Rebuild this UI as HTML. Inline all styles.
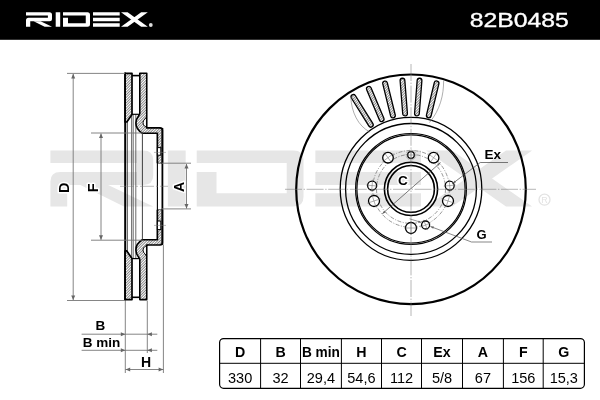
<!DOCTYPE html><html><head><meta charset="utf-8"><style>html,body{margin:0;padding:0;background:#fff;width:600px;height:400px;overflow:hidden}svg{display:block;will-change:transform}text{font-family:"Liberation Sans",sans-serif}</style></head><body>
<svg width="600" height="400" viewBox="0 0 600 400">
<defs><pattern id="hat" width="1.9" height="1.9" patternUnits="userSpaceOnUse" patternTransform="rotate(45)"><line x1="0.5" y1="0" x2="0.5" y2="1.9" stroke="#585858" stroke-width="0.7"/></pattern></defs>
<rect x="0" y="0" width="600" height="39.8" fill="#000"/>
<g fill="#fff"><path d="M26,12.25 L49.5,12.25 Q52,12.25 52,14.75 L52,18.7 Q52,21.2 49.5,21.2 L30.25,21.2 L30.25,26.75 L26,26.75 L26,20.3 Q26,17.8 28.5,17.8 L47.9,17.8 L47.9,15.5 L26,15.5 Z"/><path d="M33.6,21.2 L40.6,21.2 L52,26.75 L44.6,26.75 Z"/><path d="M55.7,12.25 L60.2,12.25 L60.2,26.75 L55.7,26.75 Z"/><path d="M63,12.25 L87.5,12.25 Q90,12.25 90,14.75 L90,24.25 Q90,26.75 87.5,26.75 L63,26.75 L63,17.8 L68,17.8 L68,23.35 L85.75,23.35 L85.75,15.5 L63,15.5 Z"/><path d="M93,12.25 H119.7 V15.5 H93 Z M93,17.8 H119.7 V21.2 H93 Z M93,23.35 H119.7 V26.75 H93 Z"/><path d="M121,12.25 L127.6,12.25 L147.8,26.75 L141.2,26.75 Z"/><path d="M141.2,12.25 L147.8,12.25 L127.6,26.75 L121,26.75 Z"/><circle cx="150.8" cy="25" r="1.9" fill="#ddd"/></g>
<text x="469.7" y="26.7" font-size="20" fill="#fff" stroke="#fff" stroke-width="0.35" textLength="99.2" lengthAdjust="spacingAndGlyphs">82B0485</text>
<g fill="#e6e6e6" transform="translate(-52.43,102.9925) scale(3.955,3.87)"><path d="M26,12.25 L49.5,12.25 Q52,12.25 52,14.75 L52,18.7 Q52,21.2 49.5,21.2 L30.25,21.2 L30.25,26.75 L26,26.75 L26,20.3 Q26,17.8 28.5,17.8 L47.9,17.8 L47.9,15.5 L26,15.5 Z"/><path d="M33.6,21.2 L40.6,21.2 L52,26.75 L44.6,26.75 Z"/><path d="M55.7,12.25 L60.2,12.25 L60.2,26.75 L55.7,26.75 Z"/><path d="M63,12.25 L87.5,12.25 Q90,12.25 90,14.75 L90,24.25 Q90,26.75 87.5,26.75 L63,26.75 L63,17.8 L68,17.8 L68,23.35 L85.75,23.35 L85.75,15.5 L63,15.5 Z"/><path d="M93,12.25 H119.7 V15.5 H93 Z M93,17.8 H119.7 V21.2 H93 Z M93,23.35 H119.7 V26.75 H93 Z"/><path d="M121,12.25 L127.6,12.25 L147.8,26.75 L141.2,26.75 Z"/><path d="M141.2,12.25 L147.8,12.25 L127.6,26.75 L121,26.75 Z"/></g>
<circle cx="544.5" cy="199.7" r="5.5" fill="none" stroke="#e3e3e3" stroke-width="1.3"/><text x="544.6" y="203.1" font-size="9" fill="#e3e3e3" text-anchor="middle">R</text>
<g fill="none" stroke="#000">
<circle cx="411" cy="189.3" r="114.8" stroke-width="2.2"/>
<ellipse cx="411" cy="188.8" rx="70.8" ry="71.5" stroke-width="1.3"/>
<circle cx="411" cy="188.9" r="65.4" stroke-width="1.3"/>
<circle cx="411" cy="188.9" r="54.1" stroke-width="1.2"/>
<circle cx="411" cy="188.9" r="55.4" stroke-width="1.2"/>
<circle cx="411" cy="188.9" r="26.6" stroke-width="1.6"/>
<circle cx="411" cy="188.9" r="23.4" stroke-width="1.6"/>
</g>
<circle cx="411" cy="188.9" r="38.4" fill="none" stroke="#555" stroke-width="0.6" stroke-dasharray="4,1.5,1,1.5"/>
<circle cx="411" cy="188.9" r="34.5" fill="none" stroke="#555" stroke-width="0.6" stroke-dasharray="4,1.5,1,1.5"/>
<circle cx="411" cy="155" r="3.3" fill="#fff" stroke="#000" stroke-width="1.3"/>
<path d="M411.00,159.80 L411.00,150.20 M406.20,155.00 L415.80,155.00" stroke="#666" stroke-width="0.5"/>
<circle cx="388" cy="157.7" r="5.3" fill="#fff" stroke="#000" stroke-width="1.3"/>
<path d="M392.03,163.17 L383.97,152.23 M382.53,161.73 L393.47,153.67" stroke="#666" stroke-width="0.5"/>
<circle cx="433.6" cy="157.7" r="5.3" fill="#fff" stroke="#000" stroke-width="1.3"/>
<path d="M429.61,163.21 L437.59,152.19 M428.09,153.71 L439.11,161.69" stroke="#666" stroke-width="0.5"/>
<circle cx="372.1" cy="185.6" r="4.5" fill="#fff" stroke="#000" stroke-width="1.3"/>
<path d="M378.08,186.11 L366.12,185.09 M371.59,191.58 L372.61,179.62" stroke="#666" stroke-width="0.5"/>
<circle cx="449.7" cy="185.6" r="4.5" fill="#fff" stroke="#000" stroke-width="1.3"/>
<path d="M443.72,186.11 L455.68,185.09 M449.19,179.62 L450.21,191.58" stroke="#666" stroke-width="0.5"/>
<circle cx="374" cy="201" r="5.5" fill="#fff" stroke="#000" stroke-width="1.3"/>
<path d="M380.65,198.82 L367.35,203.18 M376.18,207.65 L371.82,194.35" stroke="#666" stroke-width="0.5"/>
<circle cx="448" cy="201" r="5.5" fill="#fff" stroke="#000" stroke-width="1.3"/>
<path d="M441.35,198.82 L454.65,203.18 M450.18,194.35 L445.82,207.65" stroke="#666" stroke-width="0.5"/>
<circle cx="411" cy="228" r="5.5" fill="#fff" stroke="#000" stroke-width="1.3"/>
<path d="M411.00,221.00 L411.00,235.00 M418.00,228.00 L404.00,228.00" stroke="#666" stroke-width="0.5"/>
<circle cx="425.6" cy="225" r="4" fill="#fff" stroke="#000" stroke-width="1.3"/>
<path d="M423.54,219.90 L427.66,230.10 M430.70,222.94 L420.50,227.06" stroke="#666" stroke-width="0.5"/>
<circle cx="411" cy="155" r="5" fill="none" stroke="#777" stroke-width="0.5" stroke-dasharray="1.5,1"/>
<path d="M372.90,123.60 L355.36,95.53 A2.35,2.35 0 0 0 351.38,98.02 L368.92,126.09 A2.35,2.35 0 0 0 372.90,123.60 Z" fill="url(#hat)" stroke="#000" stroke-width="1.3"/>
<path d="M383.85,118.35 L371.02,87.84 A2.35,2.35 0 0 0 366.69,89.66 L379.52,120.17 A2.35,2.35 0 0 0 383.85,118.35 Z" fill="url(#hat)" stroke="#000" stroke-width="1.3"/>
<path d="M395.24,114.97 L387.34,82.83 A2.35,2.35 0 0 0 382.78,83.95 L390.67,116.09 A2.35,2.35 0 0 0 395.24,114.97 Z" fill="url(#hat)" stroke="#000" stroke-width="1.3"/>
<path d="M407.41,113.40 L404.81,80.40 A2.35,2.35 0 0 0 400.12,80.77 L402.72,113.77 A2.35,2.35 0 0 0 407.41,113.40 Z" fill="url(#hat)" stroke="#000" stroke-width="1.3"/>
<path d="M419.28,113.77 L421.88,80.77 A2.35,2.35 0 0 0 417.19,80.40 L414.59,113.40 A2.35,2.35 0 0 0 419.28,113.77 Z" fill="url(#hat)" stroke="#000" stroke-width="1.3"/>
<path d="M431.07,116.02 L438.86,83.85 A2.35,2.35 0 0 0 434.29,82.75 L426.50,114.92 A2.35,2.35 0 0 0 431.07,116.02 Z" fill="url(#hat)" stroke="#000" stroke-width="1.3"/>
<path d="M350.8,97 C351.5,112 358,126 369.9,132" fill="none" stroke="#777" stroke-width="0.6"/>
<path d="M443.6,80.6 C443.8,95 440,110 429.5,122.5" fill="none" stroke="#777" stroke-width="0.6"/>
<g stroke="#7a7a7a" stroke-width="0.55" stroke-dasharray="17,1.6,1.4,1.6">
<line x1="285" y1="189.3" x2="536" y2="189.3"/>
<line x1="411" y1="64" x2="411" y2="316"/>
</g>
<text x="403" y="185" font-size="13.6" font-weight="bold" text-anchor="middle" fill="#000" stroke="#fff" stroke-width="3" stroke-linejoin="round" paint-order="stroke">C</text>
<path d="M382.3,213.8 L440.5,162.6" stroke="#444" stroke-width="0.7"/>
<path d="M382.3,213.8 L384.14,210.59 L385.72,212.39 Z" fill="#666"/>
<path d="M440.5,162.6 L438.66,165.81 L437.08,164.01 Z" fill="#666"/>
<text x="484.4" y="158.8" font-size="13.5" font-weight="bold" fill="#000">Ex</text>
<path d="M508,162.5 H480.2 L452,184" fill="none" stroke="#444" stroke-width="0.7"/>
<path d="M452.6,183.6 L454.72,180.60 L456.05,182.35 Z" fill="#666"/>
<text x="476.5" y="238.6" font-size="13" font-weight="bold" fill="#000">G</text>
<path d="M492,242 H471.5 L430.5,226.5" fill="none" stroke="#555" stroke-width="0.7"/>
<path d="M430.3,226.4 L433.96,226.61 L433.18,228.67 Z" fill="#666"/>
<path d="M409.5,218.8 L421,222.3" stroke="#555" stroke-width="0.6"/>
<path d="M421.3,222.4 L418.14,222.49 L418.72,220.57 Z" fill="#666"/>
<line x1="125.1" y1="72.5" x2="125.1" y2="300.4" stroke="#000" stroke-width="1.8"/>
<line x1="162.4" y1="128" x2="162.4" y2="244.89999999999998" stroke="#000" stroke-width="1.8"/>
<line x1="157.4" y1="133" x2="157.4" y2="239.89999999999998" stroke="#000" stroke-width="1.1"/>
<line x1="127.2" y1="121" x2="127.2" y2="251.89999999999998" stroke="#111" stroke-width="0.9"/>
<line x1="131.6" y1="114.3" x2="131.6" y2="258.59999999999997" stroke="#444" stroke-width="0.8"/>
<line x1="133.2" y1="114.3" x2="133.2" y2="258.59999999999997" stroke="#444" stroke-width="0.8"/>
<line x1="135.8" y1="114.3" x2="135.8" y2="258.59999999999997" stroke="#444" stroke-width="0.8"/>
<line x1="142.4" y1="132" x2="142.4" y2="240.89999999999998" stroke="#111" stroke-width="0.8"/>
<path d="M125.1,73.3 H132 V114.5 L126.8,122.0 H125.1 Z" fill="url(#hat)" stroke="#000" stroke-width="1.7" stroke-linejoin="round"/>
<line x1="132" y1="75.6" x2="140" y2="75.6" stroke="#000" stroke-width="1.6"/>
<line x1="132" y1="114.3" x2="140" y2="114.3" stroke="#000" stroke-width="1.2"/>
<path d="M140,73.3 H146.75 V116.0 C146.4,118.5 143,119.5 143,122.8 C143,126.0 146,127.2 148,127.9 H160 Q162.4,127.9 162.4,130.3 V163.2 H157.4 V133.2 H142.3 C139.5,131.5 135.9,127.5 135.9,123.0 C135.9,118.5 138.5,116.0 139.8,114.0 Z" fill="url(#hat)" stroke="none"/>
<path d="M139.8,114.0 V73.3 H146.75 V127.9 H160 Q162.4,127.9 162.4,130.3 V163.2 M157.4,163.2 V133.2 H142.3 C139.5,131.5 135.9,127.5 135.9,123.0 C135.9,118.5 138.5,116.0 139.8,114.0" fill="none" stroke="#000" stroke-width="1.6" stroke-linejoin="round"/>
<path d="M146.75,116.0 C146.4,118.5 143,119.5 143,122.8 C143,126.0 146,127.2 148,127.9" fill="none" stroke="#000" stroke-width="1"/>
<line x1="157.4" y1="163.2" x2="162.4" y2="163.2" stroke="#000" stroke-width="0.6"/>
<rect x="157.4" y="147.6" width="3.4" height="7.60" fill="#fff" stroke="#000" stroke-width="1"/>
<line x1="154" y1="152.4" x2="166" y2="152.4" stroke="#777" stroke-width="0.5"/>
<path d="M125.1,299.6 H132 V258.4 L126.8,250.9 H125.1 Z" fill="url(#hat)" stroke="#000" stroke-width="1.7" stroke-linejoin="round"/>
<line x1="132" y1="297.3" x2="140" y2="297.3" stroke="#000" stroke-width="1.6"/>
<line x1="132" y1="258.6" x2="140" y2="258.6" stroke="#000" stroke-width="1.2"/>
<path d="M140,299.6 H146.75 V256.9 C146.4,254.4 143,253.4 143,250.1 C143,246.9 146,245.7 148,245.0 H160 Q162.4,245.0 162.4,242.6 V209.7 H157.4 V239.7 H142.3 C139.5,241.4 135.9,245.4 135.9,249.9 C135.9,254.4 138.5,256.9 139.8,258.9 Z" fill="url(#hat)" stroke="none"/>
<path d="M139.8,258.9 V299.6 H146.75 V245.0 H160 Q162.4,245.0 162.4,242.6 V209.7 M157.4,209.7 V239.7 H142.3 C139.5,241.4 135.9,245.4 135.9,249.9 C135.9,254.4 138.5,256.9 139.8,258.9" fill="none" stroke="#000" stroke-width="1.6" stroke-linejoin="round"/>
<path d="M146.75,256.9 C146.4,254.4 143,253.4 143,250.1 C143,246.9 146,245.7 148,245.0" fill="none" stroke="#000" stroke-width="1"/>
<line x1="157.4" y1="209.7" x2="162.4" y2="209.7" stroke="#000" stroke-width="0.6"/>
<rect x="157.4" y="221" width="3.4" height="8.60" fill="#fff" stroke="#000" stroke-width="1"/>
<line x1="154" y1="225.4" x2="166" y2="225.4" stroke="#777" stroke-width="0.5"/>
<g stroke="#777" stroke-width="0.9" fill="none">
<line x1="67" y1="73.4" x2="125" y2="73.4"/>
<line x1="67" y1="300.5" x2="125" y2="300.5"/>
<line x1="73.2" y1="74" x2="73.2" y2="300"/>
<line x1="91" y1="133" x2="143" y2="133"/>
<line x1="91" y1="240.2" x2="143" y2="240.2"/>
<line x1="101" y1="133.5" x2="101" y2="239.7"/>
<line x1="162" y1="163.2" x2="191" y2="163.2"/>
<line x1="162" y1="208.9" x2="191" y2="208.9"/>
<line x1="186.5" y1="164" x2="186.5" y2="208.5"/>
</g>
<line x1="120" y1="186.3" x2="168" y2="186.3" stroke="#777" stroke-width="0.5" stroke-dasharray="14,2,2,2"/>
<g stroke="#777" stroke-width="0.9" fill="none">
<line x1="125.3" y1="300.5" x2="125.3" y2="373"/>
<line x1="147.3" y1="300.5" x2="147.3" y2="353"/>
<line x1="163.4" y1="245" x2="163.4" y2="373"/>
<line x1="81.6" y1="334.2" x2="157.3" y2="334.2"/>
<line x1="81.6" y1="350.3" x2="157.3" y2="350.3"/>
<line x1="125.4" y1="369.5" x2="163.4" y2="369.5"/>
</g>
<path d="M73.2,73.8 L75.20,78.40 L71.20,78.40 Z" fill="#666"/>
<path d="M73.2,300.1 L71.20,295.50 L75.20,295.50 Z" fill="#666"/>
<path d="M101,133.4 L103.00,138.00 L99.00,138.00 Z" fill="#666"/>
<path d="M101,239.9 L99.00,235.30 L103.00,235.30 Z" fill="#666"/>
<path d="M186.5,163.8 L188.50,168.40 L184.50,168.40 Z" fill="#666"/>
<path d="M186.5,208.6 L184.50,204.00 L188.50,204.00 Z" fill="#666"/>
<path d="M125.4,334.2 L120.80,336.20 L120.80,332.20 Z" fill="#666"/>
<path d="M147.3,334.2 L151.90,332.20 L151.90,336.20 Z" fill="#666"/>
<path d="M125.4,350.3 L120.80,352.30 L120.80,348.30 Z" fill="#666"/>
<path d="M147.3,350.3 L151.90,348.30 L151.90,352.30 Z" fill="#666"/>
<path d="M125.6,369.5 L130.20,367.50 L130.20,371.50 Z" fill="#666"/>
<path d="M163.2,369.5 L158.60,371.50 L158.60,367.50 Z" fill="#666"/>
<text transform="translate(69.4,187.8) rotate(-90)" font-size="14.5" font-weight="bold" text-anchor="middle" fill="#000" stroke="#fff" stroke-width="3" stroke-linejoin="round" paint-order="stroke">D</text>
<text transform="translate(98.1,187.8) rotate(-90)" font-size="14.5" font-weight="bold" text-anchor="middle" fill="#000" stroke="#fff" stroke-width="3" stroke-linejoin="round" paint-order="stroke">F</text>
<text transform="translate(184.2,186.8) rotate(-90)" font-size="14.2" font-weight="bold" text-anchor="middle" fill="#000" stroke="#fff" stroke-width="3" stroke-linejoin="round" paint-order="stroke">A</text>
<text x="100.4" y="329.9" font-size="13.5" font-weight="bold" text-anchor="middle" fill="#000">B</text>
<text x="101.5" y="346.9" font-size="13" font-weight="bold" text-anchor="middle" fill="#000" textLength="37.5" lengthAdjust="spacingAndGlyphs">B min</text>
<text x="146" y="367" font-size="14" font-weight="bold" text-anchor="middle" fill="#000">H</text>
<rect x="219.6" y="338.6" width="364.79999999999995" height="49.69999999999999" rx="4" fill="none" stroke="#000" stroke-width="1.2"/>
<line x1="219.6" y1="363.3" x2="584.4" y2="363.3" stroke="#000" stroke-width="1"/>
<line x1="260.6" y1="338.6" x2="260.6" y2="388.3" stroke="#000" stroke-width="1"/>
<line x1="300.5" y1="338.6" x2="300.5" y2="388.3" stroke="#000" stroke-width="1"/>
<line x1="341.4" y1="338.6" x2="341.4" y2="388.3" stroke="#000" stroke-width="1"/>
<line x1="381.5" y1="338.6" x2="381.5" y2="388.3" stroke="#000" stroke-width="1"/>
<line x1="421.5" y1="338.6" x2="421.5" y2="388.3" stroke="#000" stroke-width="1"/>
<line x1="462.5" y1="338.6" x2="462.5" y2="388.3" stroke="#000" stroke-width="1"/>
<line x1="503.4" y1="338.6" x2="503.4" y2="388.3" stroke="#000" stroke-width="1"/>
<line x1="543.2" y1="338.6" x2="543.2" y2="388.3" stroke="#000" stroke-width="1"/>
<text x="240.1" y="357.2" font-size="14.2" font-weight="bold" text-anchor="middle" fill="#000">D</text>
<text transform="translate(240.1,382.6) scale(0.97,1)" font-size="15" text-anchor="middle" fill="#000">330</text>
<text x="280.6" y="357.2" font-size="14.2" font-weight="bold" text-anchor="middle" fill="#000">B</text>
<text transform="translate(280.6,382.6) scale(0.97,1)" font-size="15" text-anchor="middle" fill="#000">32</text>
<text x="320.9" y="357.2" font-size="14.2" font-weight="bold" text-anchor="middle" fill="#000" textLength="38" lengthAdjust="spacingAndGlyphs">B min</text>
<text transform="translate(320.9,382.6) scale(0.97,1)" font-size="15" text-anchor="middle" fill="#000">29,4</text>
<text x="361.4" y="357.2" font-size="14.2" font-weight="bold" text-anchor="middle" fill="#000">H</text>
<text transform="translate(361.4,382.6) scale(0.97,1)" font-size="15" text-anchor="middle" fill="#000">54,6</text>
<text x="401.5" y="357.2" font-size="14.2" font-weight="bold" text-anchor="middle" fill="#000">C</text>
<text transform="translate(401.5,382.6) scale(0.97,1)" font-size="15" text-anchor="middle" fill="#000">112</text>
<text x="442.0" y="357.2" font-size="14.2" font-weight="bold" text-anchor="middle" fill="#000">Ex</text>
<text transform="translate(442.0,382.6) scale(0.97,1)" font-size="15" text-anchor="middle" fill="#000">5/8</text>
<text x="482.9" y="357.2" font-size="14.2" font-weight="bold" text-anchor="middle" fill="#000">A</text>
<text transform="translate(482.9,382.6) scale(0.97,1)" font-size="15" text-anchor="middle" fill="#000">67</text>
<text x="523.3" y="357.2" font-size="14.2" font-weight="bold" text-anchor="middle" fill="#000">F</text>
<text transform="translate(523.3,382.6) scale(0.97,1)" font-size="15" text-anchor="middle" fill="#000">156</text>
<text x="563.8" y="357.2" font-size="14.2" font-weight="bold" text-anchor="middle" fill="#000">G</text>
<text transform="translate(563.8,382.6) scale(0.97,1)" font-size="15" text-anchor="middle" fill="#000">15,3</text>
</svg></body></html>
